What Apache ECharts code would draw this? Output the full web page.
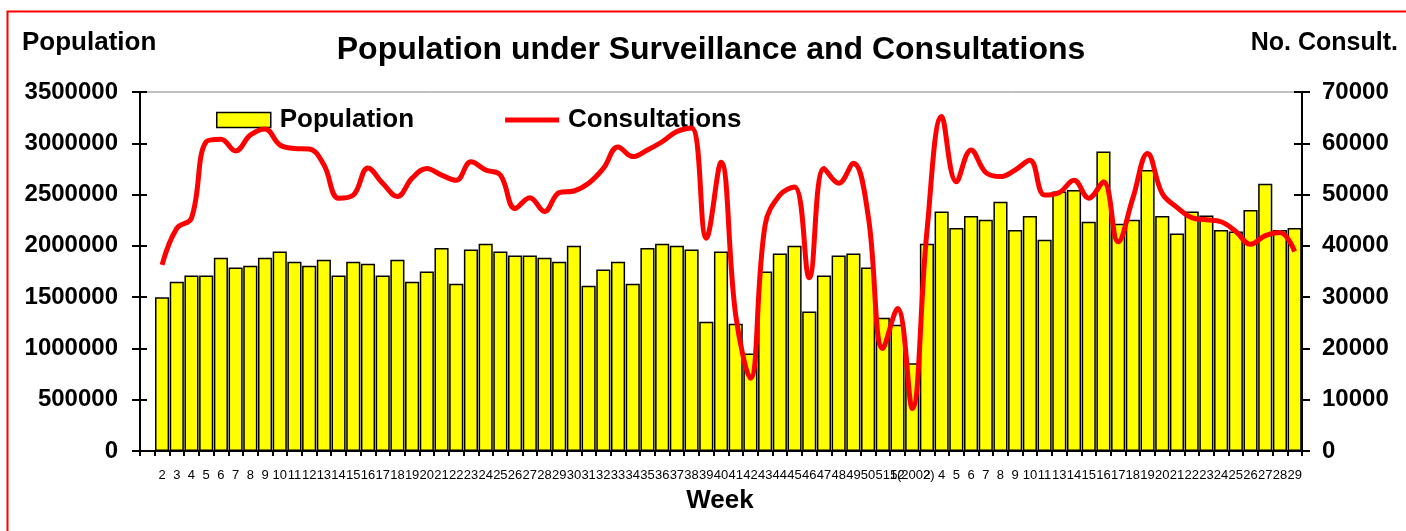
<!DOCTYPE html>
<html>
<head>
<meta charset="utf-8">
<title>Population under Surveillance and Consultations</title>
<script src="https://cdn.jsdelivr.net/npm/echarts@6/dist/echarts.min.js"></script>
<style>
  html, body { margin: 0; padding: 0; background: #fff; }
  #chart { width: 1406px; height: 531px; }
</style>
</head>
<body>
<div id="chart"></div>
<script>
// week labels (first slot is empty, 2002 weeks start after 52)
const weeks = ['', '2', '3', '4', '5', '6', '7', '8', '9', '10', '11', '12', '13', '14', '15', '16', '17', '18', '19', '20',
  '21', '22', '23', '24', '25', '26', '27', '28', '29', '30', '31', '32', '33', '34', '35', '36', '37', '38', '39', '40',
  '41', '42', '43', '44', '45', '46', '47', '48', '49', '50', '51', '52', '1(2002)', '2', '4', '5', '6', '7', '8', '9',
  '10', '11', '13', '14', '15', '16', '17', '18', '19', '20', '21', '22', '23', '24', '25', '26', '27', '28', '29']

// population under surveillance (left axis)
const population = [null, 1500000, 1650000, 1710000, 1710000, 1885000, 1790000, 1805000, 1885000, 1945000,
  1845000, 1805000, 1865000, 1710000, 1845000, 1825000, 1710000, 1865000, 1650000, 1750000,
  1980000, 1630000, 1965000, 2020000, 1945000, 1905000, 1905000, 1885000, 1845000, 2000000,
  1610000, 1770000, 1845000, 1630000, 1980000, 2020000, 2000000, 1965000, 1260000, 1945000,
  1240000, 950000, 1750000, 1925000, 2000000, 1360000, 1710000, 1905000, 1925000, 1790000,
  1300000, 1230000, 855000, 2020000, 2335000, 2175000, 2290000, 2255000, 2430000, 2155000,
  2290000, 2060000, 2530000, 2545000, 2235000, 2920000, 2215000, 2255000, 2740000, 2290000,
  2120000, 2335000, 2295000, 2155000, 2140000, 2350000, 2605000, 2155000, 2175000]

// number of consultations (right axis)
const consultations = [null, 36300, 43400, 45400, 60300, 60800, 58500, 61600, 62800, 59700,
  59000, 58900, 55800, 49300, 49900, 55200, 52200, 49600, 53200, 55100,
  53800, 52800, 56400, 54800, 53800, 47300, 49400, 46700, 50400, 50700,
  52200, 55100, 59300, 57400, 58700, 60300, 62300, 63000, 41500, 56300,
  26500, 14200, 44100, 49900, 51500, 33800, 55100, 52200, 56100, 46000,
  20000, 27800, 8300, 42800, 65200, 52500, 58700, 54300, 53500, 54800,
  56700, 49900, 50400, 52800, 49300, 52500, 40800, 49300, 58000, 50200,
  47500, 45500, 45100, 44700, 42800, 40300, 42000, 42600, 38900]

const FONT = '"Liberation Sans", Arial, sans-serif'

const chart = echarts.init(document.getElementById('chart'))

// axis numbers without thousands separators
const boldLabel = {
  color: '#000', fontFamily: FONT, fontWeight: 'bold', fontSize: 24,
  formatter: (v) => String(v)
}

const option = {
  animation: false,
  backgroundColor: '#fff',
  textStyle: { fontFamily: FONT },
  graphic: [
    // red frame round the chart
    { type: 'rect', left: 5, top: 9, shape: { width: 1500, height: 600 }, style: { fill: 'none', stroke: '#ff0000', lineWidth: 2 } },
    { type: 'text', x: 711, y: 50, style: { text: 'Population under Surveillance and Consultations', align: 'center', verticalAlign: 'middle', font: 'bold 32px ' + FONT, fill: '#000' } },
    { type: 'text', x: 22, y: 43, style: { text: 'Population', align: 'left', verticalAlign: 'middle', font: 'bold 26px ' + FONT, fill: '#000' } },
    { type: 'text', x: 1398, y: 43, style: { text: 'No. Consult.', align: 'right', verticalAlign: 'middle', font: 'bold 25px ' + FONT, fill: '#000' } },
    { type: 'text', x: 720, y: 501, style: { text: 'Week', align: 'center', verticalAlign: 'middle', font: 'bold 26px ' + FONT, fill: '#000' } }
  ],
  legend: {
    left: 216,
    top: 107,
    padding: 0,
    itemWidth: 54,
    itemHeight: 15,
    itemGap: 91,
    textStyle: { color: '#000', fontFamily: FONT, fontWeight: 'bold', fontSize: 26, padding: [0, 0, 0, 4] },
    data: [
      { name: 'Population', icon: 'rect', itemStyle: { color: '#ffff00', borderColor: '#000', borderWidth: 1.5 } },
      {
        name: 'Consultations',
        // thick horizontal stroke, box kept 54x15 by the stray move points
        icon: 'path://M0,0L0,0M0,5L54,5L54,10L0,10ZM54,15L54,15',
        itemStyle: { color: '#ff0000', borderWidth: 0 }
      }
    ]
  },
  grid: {
    left: 140,
    right: 104,
    top: 92,
    bottom: 80,
    show: true,
    borderColor: '#808080',
    borderWidth: 1,
    backgroundColor: 'transparent'
  },
  xAxis: {
    type: 'category',
    data: weeks,
    boundaryGap: true,
    axisLine: { lineStyle: { color: '#000', width: 2 } },
    axisTick: { show: true, interval: 0, length: 5, lineStyle: { color: '#000', width: 2 } },
    axisLabel: { interval: 0, margin: 18, color: '#000', fontFamily: FONT, fontSize: 13 },
    splitLine: { show: false }
  },
  yAxis: [
    {
      type: 'value', position: 'left', min: 0, max: 3500000, interval: 500000,
      axisLine: { show: true, lineStyle: { color: '#000', width: 2 } },
      axisTick: { show: true, length: 8, lineStyle: { color: '#000', width: 2 } },
      axisLabel: Object.assign({ margin: 22 }, boldLabel),
      splitLine: { show: false }
    },
    {
      type: 'value', position: 'right', min: 0, max: 70000, interval: 10000,
      axisLine: { show: true, lineStyle: { color: '#000', width: 2 } },
      axisTick: { show: true, length: 8, lineStyle: { color: '#000', width: 2 } },
      axisLabel: Object.assign({ margin: 20 }, boldLabel),
      splitLine: { show: false }
    },
    // inner halves of the crossing ticks
    {
      type: 'value', position: 'left', min: 0, max: 3500000, interval: 500000,
      axisLine: { show: false },
      axisTick: { show: true, inside: true, length: 7, lineStyle: { color: '#000', width: 2 } },
      axisLabel: { show: false },
      splitLine: { show: false }
    },
    {
      type: 'value', position: 'right', min: 0, max: 70000, interval: 10000,
      axisLine: { show: false },
      axisTick: { show: true, inside: true, length: 8, lineStyle: { color: '#000', width: 2 } },
      axisLabel: { show: false },
      splitLine: { show: false }
    }
  ],
  series: [
    {
      name: 'Population',
      type: 'bar',
      yAxisIndex: 0,
      data: population,
      barCategoryGap: '4%',
      itemStyle: { color: '#ffff00', borderColor: '#000', borderWidth: 1.5 }
    },
    {
      name: 'Consultations',
      type: 'line',
      yAxisIndex: 1,
      data: consultations,
      smooth: 0.4,
      symbol: 'none',
      connectNulls: false,
      lineStyle: { color: '#ff0000', width: 5 },
      itemStyle: { color: '#ff0000' },
      z: 5
    }
  ]
}

chart.setOption(option)
</script>
</body>
</html>
